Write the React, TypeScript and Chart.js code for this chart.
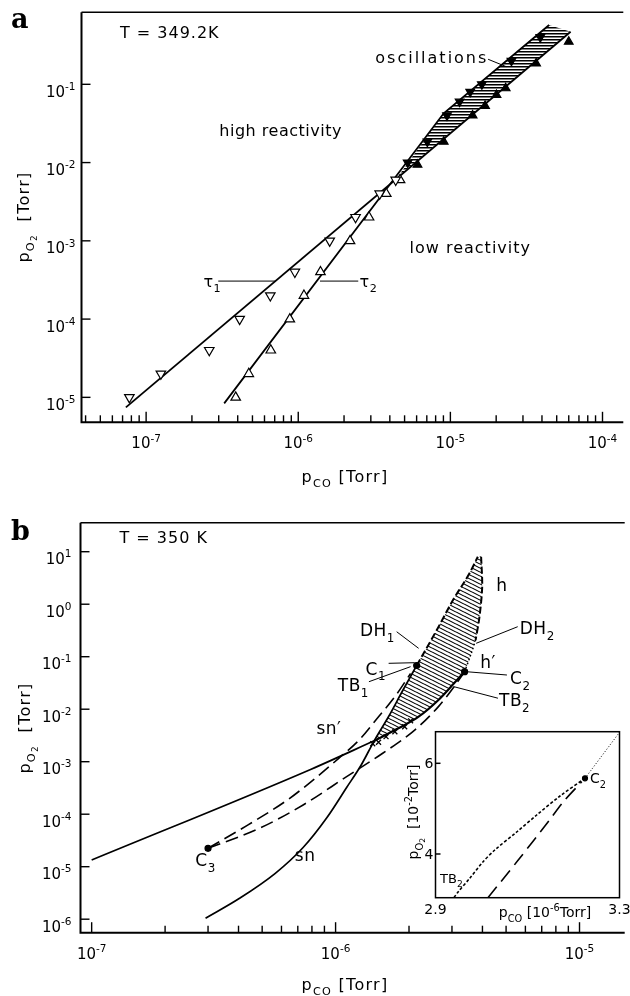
import { useEffect, useRef } from 'react';
import { Chart, registerables } from 'chart.js';

Chart.register(...registerables);

const FONT = '"DejaVu Sans", "Liberation Sans", Arial, sans-serif';

// ================= Panel a : T = 349.2 K =================
const A_X_RANGE = [3.76e-8, 1.37e-4];
const A_Y_RANGE = [4.8e-6, 0.832];
const A_X_TICK_EXPONENTS = [-7, -6, -5, -4];
const A_Y_TICK_EXPONENTS = [-1, -2, -3, -4, -5];

// tau1 (open down-triangles)
const A_TAU1_X = [7.76e-8, 1.25e-7, 2.6e-7, 4.12e-7, 6.55e-7, 9.5e-7, 1.61e-6, 2.38e-6, 3.43e-6, 4.37e-6];
const A_TAU1_Y = [1e-5, 2e-5, 4e-5, 1e-4, 2e-4, 4e-4, 1e-3, 2e-3, 4e-3, 6e-3];
// tau2 (open up-triangles)
const A_TAU2_X = [3.88e-7, 4.73e-7, 6.6e-7, 8.8e-7, 1.09e-6, 1.4e-6, 2.19e-6, 2.92e-6, 3.79e-6, 4.67e-6];
const A_TAU2_Y = [1e-5, 2e-5, 4e-5, 1e-4, 2e-4, 4e-4, 1e-3, 2e-3, 4e-3, 6e-3];
// oscillation boundaries (filled triangles)
const A_OSC_UP_X = [5.24e-6, 7.06e-6, 9.5e-6, 1.15e-5, 1.35e-5, 1.61e-5, 2.52e-5, 3.9e-5];
const A_OSC_UP_Y = [0.01, 0.0185, 0.04, 0.06, 0.08, 0.1, 0.2, 0.4];
const A_OSC_LO_X = [6.08e-6, 9.04e-6, 1.4e-5, 1.69e-5, 2.01e-5, 2.31e-5, 3.66e-5, 6.0e-5];
const A_OSC_LO_Y = [0.0094, 0.0185, 0.04, 0.053, 0.073, 0.089, 0.185, 0.35];
// fitted lines
const A_LINE1_X = [7.36e-8, 6.17e-5];
const A_LINE1_Y = [7.45e-6, 0.47];
const A_LINE2_X = [3.26e-7, 9.04e-6, 4.46e-5];
const A_LINE2_Y = [8.37e-6, 0.0426, 0.573];
// hatched oscillation band
const A_BAND_X = [4.52e-6, 9.04e-6, 4.46e-5, 6.17e-5, 4.52e-6];
const A_BAND_Y = [6.6e-3, 0.0426, 0.573, 0.47, 6.6e-3];

// ================= Panel b : T = 350 K =================
const B_X_RANGE = [9.0e-8, 1.532e-5];
const B_Y_RANGE = [5.53e-7, 35.7];
const B_X_TICK_EXPONENTS = [-7, -6, -5];
const B_Y_TICK_EXPONENTS = [1, 0, -1, -2, -3, -4, -5, -6];

const B_LINE_X = [1.0e-7, 7.94e-7, 1.44e-6];
const B_LINE_Y = [1.34e-5, 7.2e-4, 2.5e-3];
const B_SN_X = [2.93e-7, 4.04e-7, 5.66e-7, 7.36e-7, 9.22e-7, 1.11e-6, 1.27e-6, 1.44e-6, 1.65e-6, 1.88e-6, 2.15e-6];
const B_SN_Y = [1.04e-6, 2.5e-6, 7.48e-6, 2.32e-5, 8.65e-5, 3.23e-4, 8.47e-4, 2.5e-3, 7.26e-3, 0.0222, 0.068];
const B_SNP_X = [3.0e-7, 4.36e-7, 6.34e-7, 8.24e-7, 1.03e-6, 1.25e-6, 1.5e-6, 1.75e-6, 2.03e-6];
const B_SNP_Y = [2.24e-5, 6.2e-5, 1.86e-4, 4.8e-4, 1.16e-3, 2.6e-3, 7.2e-3, 0.0173, 0.048];
const B_LOWDASH_X = [3.0e-7, 4.88e-7, 7.36e-7, 1.11e-6, 1.56e-6, 2.11e-6, 2.64e-6, 3.06e-6, 3.38e-6];
const B_LOWDASH_Y = [2.24e-5, 5.4e-5, 1.5e-4, 5.2e-4, 1.45e-3, 4.0e-3, 0.0112, 0.0268, 0.0518];
const B_HLEFT_X = [2.15e-6, 2.6e-6, 3.03e-6, 3.54e-6, 3.83e-6];
const B_HLEFT_Y = [0.068, 0.323, 1.2, 3.88, 8.03];
const B_HRIGHT_X = [3.95e-6, 3.99e-6, 3.89e-6, 3.75e-6];
const B_HRIGHT_Y = [8.03, 2.15, 0.578, 0.208];
const B_HPRIME_X = [3.75e-6, 3.6e-6, 3.38e-6];
const B_HPRIME_Y = [0.208, 0.116, 0.0518];
const B_BOTTOM_X = [1.44e-6, 1.81e-6, 2.19e-6, 2.64e-6, 3.06e-6, 3.38e-6];
const B_BOTTOM_Y = [2.5e-3, 4.33e-3, 7.2e-3, 0.015, 0.0311, 0.0518];
const B_OSC_X = [1.44e-6, 1.65e-6, 1.88e-6, 2.15e-6, 2.6e-6, 3.03e-6, 3.54e-6, 3.83e-6, 3.95e-6, 3.99e-6, 3.89e-6, 3.75e-6, 3.6e-6, 3.38e-6, 3.06e-6, 2.64e-6, 2.19e-6, 1.81e-6, 1.44e-6];
const B_OSC_Y = [2.5e-3, 7.26e-3, 0.0222, 0.068, 0.323, 1.2, 3.88, 8.03, 8.03, 2.15, 0.578, 0.208, 0.116, 0.0518, 0.0311, 0.015, 7.2e-3, 4.33e-3, 2.5e-3];
const B_CROSS_X = [1.42e-6, 1.5e-6, 1.61e-6, 1.75e-6, 1.92e-6, 2.03e-6];
const B_CROSS_Y = [2.2e-3, 2.35e-3, 3.0e-3, 3.72e-3, 4.64e-3, 6.0e-3];
const B_POINT_X = [2.15e-6, 3.38e-6, 3.0e-7];
const B_POINT_Y = [0.068, 0.0518, 2.24e-5];

// ================= Inset =================
const I_X_RANGE = [2.9, 3.3];
const I_Y_RANGE = [3.036, 6.697];
const I_X_TICK_LABELS = [2.9, 3.3];
const I_Y_TICKS = [4, 6];
const I_UP_X = [3.225, 3.301];
const I_UP_Y = [5.669, 6.697];
const I_TB_X = [3.225, 3.1707, 3.12, 3.0765, 3.029, 3.003, 2.975, 2.949, 2.94];
const I_TB_Y = [5.669, 5.279, 4.86, 4.485, 4.088, 3.824, 3.471, 3.162, 3.036];
const I_DASH_X = [3.014, 3.079, 3.145, 3.178, 3.218];
const I_DASH_Y = [3.036, 3.855, 4.712, 5.153, 5.594];
const I_POINT_X = [3.225];
const I_POINT_Y = [5.669];

type Seg = [string, string];
type Lbl = { x: number; y: number; parts: Seg[]; align: string; size?: number; sp?: number };
type Leader = { x1: number; y1: number; x2: number; y2: number };

const A_LABELS: Lbl[] = [
  { x: 6.73e-8, y: 0.47, parts: [['T = 349.2K', '']], align: 'left', sp: 1 },
  { x: 3.21e-6, y: 0.225, parts: [['oscillations', '']], align: 'left', sp: 2 },
  { x: 3.03e-7, y: 0.0261, parts: [['high reactivity', '']], align: 'left', sp: 0.5 },
  { x: 5.39e-6, y: 8.41e-4, parts: [['low reactivity', '']], align: 'left', sp: 1 },
  { x: 2.38e-7, y: 3.06e-4, parts: [['τ', ''], ['1', 'sub']], align: 'left' },
  { x: 2.53e-6, y: 3.06e-4, parts: [['τ', ''], ['2', 'sub']], align: 'left' },
];
const A_LEADERS: Leader[] = [
  { x1: 1.77e-5, y1: 0.209, x2: 2.33e-5, y2: 0.168 },
  { x1: 2.98e-7, y1: 3.06e-4, x2: 7.1e-7, y2: 3.06e-4 },
  { x1: 1.39e-6, y1: 3.06e-4, x2: 2.48e-6, y2: 3.06e-4 },
];
const B_LABELS: Lbl[] = [
  { x: 1.3e-7, y: 18.6, parts: [['T = 350 K', '']], align: 'left', size: 16, sp: 1 },
  { x: 4.81e-6, y: 2.32, parts: [['h', '']], align: 'center' },
  { x: 1.75e-6, y: 0.323, parts: [['DH', ''], ['1', 'sub']], align: 'right' },
  { x: 5.69e-6, y: 0.348, parts: [['DH', ''], ['2', 'sub']], align: 'left' },
  { x: 4.22e-6, y: 0.0803, parts: [['h′', '']], align: 'center' },
  { x: 1.61e-6, y: 0.06, parts: [['C', ''], ['1', 'sub']], align: 'right' },
  { x: 1.37e-6, y: 0.0289, parts: [['TB', ''], ['1', 'sub']], align: 'right' },
  { x: 5.19e-6, y: 0.0388, parts: [['C', ''], ['2', 'sub']], align: 'left' },
  { x: 4.68e-6, y: 0.015, parts: [['TB', ''], ['2', 'sub']], align: 'left' },
  { x: 9.39e-7, y: 4.33e-3, parts: [['sn′', '']], align: 'center' },
  { x: 7.5e-7, y: 1.67e-5, parts: [['sn', '']], align: 'center' },
  { x: 2.93e-7, y: 1.34e-5, parts: [['C', ''], ['3', 'sub']], align: 'center' },
];
const B_LEADERS: Leader[] = [
  { x1: 1.78e-6, y1: 0.299, x2: 2.19e-6, y2: 0.1445 },
  { x1: 5.58e-6, y1: 0.373, x2: 3.77e-6, y2: 0.18 },
  { x1: 1.65e-6, y1: 0.0748, x2: 2.11e-6, y2: 0.0769 },
  { x1: 1.37e-6, y1: 0.0334, x2: 2.03e-6, y2: 0.0646 },
  { x1: 3.44e-6, y1: 0.0518, x2: 5.04e-6, y2: 0.0448 },
  { x1: 3.06e-6, y1: 0.0268, x2: 4.63e-6, y2: 0.0162 },
];
const I_LABELS: Lbl[] = [
  { x: 3.236, y: 5.669, parts: [['C', ''], ['2', 'sub']], align: 'left', size: 14 },
  { x: 2.91, y: 3.464, parts: [['TB', ''], ['2', 'sub']], align: 'left', size: 13 },
];

const pts = (xs: number[], ys: number[]) => xs.map((x, i) => ({ x, y: ys[i] }));

function lineDs(xs: number[], ys: number[], o: any = {}) {
  return {
    data: pts(xs, ys), showLine: true, pointRadius: 0, pointHoverRadius: 0,
    borderColor: '#000', borderWidth: 1.6, fill: false, tension: 0, order: 2, ...o,
  };
}
function markDs(xs: number[], ys: number[], o: any = {}) {
  return {
    data: pts(xs, ys), showLine: false, pointStyle: 'triangle', pointRadius: 5,
    pointBorderColor: '#000', pointBackgroundColor: '#000', pointBorderWidth: 1.2, order: 0, ...o,
  };
}
function makePattern(kind: string): any {
  const c = document.createElement('canvas');
  const g = c.getContext('2d') as CanvasRenderingContext2D;
  if (kind === 'h') {
    c.width = 4; c.height = 3;
    g.fillStyle = '#000';
    g.fillRect(0, 0, 4, 1.5);
  } else {
    c.width = 8; c.height = 4;
    g.strokeStyle = '#000';
    g.lineWidth = 1.1;
    for (const off of [-4, 0, 4]) {
      g.beginPath(); g.moveTo(0, off); g.lineTo(8, off + 4); g.stroke();
    }
  }
  return g.createPattern(c, 'repeat');
}

function partSize(size: number, kind: string) {
  return kind === 'subsub' ? size * 0.55 : kind ? size * 0.7 : size;
}
function partDy(size: number, kind: string) {
  if (kind === 'sub') return size * 0.32;
  if (kind === 'subsub') return size * 0.5;
  if (kind === 'sup') return -size * 0.45;
  return 0;
}
function drawRich(ctx: any, x: number, y: number, parts: Seg[], align: string, size: number, sp = 0) {
  let w = 0;
  for (const [t, k] of parts) {
    ctx.font = `${partSize(size, k)}px ${FONT}`;
    ctx.letterSpacing = `${sp}px`;
    w += ctx.measureText(t).width;
  }
  let cx = align === 'left' ? x : align === 'right' ? x - w : x - w / 2;
  const base = y + size * 0.365;
  ctx.textAlign = 'left';
  ctx.textBaseline = 'alphabetic';
  ctx.fillStyle = '#000';
  for (const [t, k] of parts) {
    ctx.font = `${partSize(size, k)}px ${FONT}`;
    ctx.letterSpacing = `${sp}px`;
    ctx.fillText(t, cx, base + partDy(size, k));
    cx += ctx.measureText(t).width;
  }
  ctx.letterSpacing = '0px';
}
function expStr(e: number) { return e < 0 ? `-${-e}` : `${e}`; }

type PanelOpts = {
  id: string; letter: string; letterY: number;
  xExps: number[]; yExps: number[]; yGap: number;
  xTitleX: number; xTitleY: number; yTitleX: number; yTitleY: number;
  labels: Lbl[]; leaders: Leader[]; textSize: number;
};

function panelPlugin(o: PanelOpts) {
  return {
    id: o.id,
    afterDatasetsDraw(chart: any) {
      const ctx = chart.ctx;
      const ca = chart.chartArea;
      const xs = chart.scales.x;
      const ys = chart.scales.y;
      ctx.save();
      ctx.strokeStyle = '#000';
      ctx.lineCap = 'butt';
      // frame
      ctx.lineWidth = 1.5;
      ctx.beginPath(); ctx.moveTo(ca.left, ca.top); ctx.lineTo(ca.right, ca.top); ctx.stroke();
      ctx.lineWidth = 2;
      ctx.beginPath(); ctx.moveTo(ca.left, ca.top); ctx.lineTo(ca.left, ca.bottom); ctx.lineTo(ca.right, ca.bottom); ctx.stroke();
      // x ticks (inward, with minor ticks)
      ctx.lineWidth = 1.4;
      const lo = Math.floor(Math.log10(xs.min));
      const hi = Math.ceil(Math.log10(xs.max));
      for (let e = lo; e <= hi; e++) {
        for (let m = 1; m <= 9; m++) {
          const v = m * Math.pow(10, e);
          if (v < xs.min || v > xs.max) continue;
          const px = xs.getPixelForValue(v);
          if (px < ca.left + 2 || px > ca.right - 1) continue;
          const len = m === 1 ? 10.5 : 7;
          ctx.beginPath(); ctx.moveTo(px, ca.bottom); ctx.lineTo(px, ca.bottom - len); ctx.stroke();
        }
      }
      // y ticks (major only)
      for (const e of o.yExps) {
        const py = ys.getPixelForValue(Math.pow(10, e));
        ctx.beginPath(); ctx.moveTo(ca.left, py); ctx.lineTo(ca.left + 9, py); ctx.stroke();
      }
      // tick labels
      for (const e of o.xExps) {
        const px = xs.getPixelForValue(Math.pow(10, e));
        drawRich(ctx, px, ca.bottom + 20.5, [['10', ''], [expStr(e), 'sup']], 'center', 15);
      }
      for (const e of o.yExps) {
        const py = ys.getPixelForValue(Math.pow(10, e));
        drawRich(ctx, ca.left - o.yGap, py + 7, [['10', ''], [expStr(e), 'sup']], 'right', 15);
      }
      // axis titles
      drawRich(ctx, o.xTitleX, o.xTitleY, [['p', ''], ['CO', 'sub'], [' [Torr]', '']], 'center', 16, 1.3);
      ctx.save();
      ctx.translate(o.yTitleX, o.yTitleY);
      ctx.rotate(-Math.PI / 2);
      drawRich(ctx, 0, 0, [['p', ''], ['O', 'sub'], ['2', 'subsub'], ['  [Torr]', '']], 'center', 16, 1.3);
      ctx.restore();
      // leaders
      ctx.lineWidth = 1;
      for (const l of o.leaders) {
        ctx.beginPath();
        ctx.moveTo(xs.getPixelForValue(l.x1), ys.getPixelForValue(l.y1));
        ctx.lineTo(xs.getPixelForValue(l.x2), ys.getPixelForValue(l.y2));
        ctx.stroke();
      }
      // labels
      for (const l of o.labels) {
        drawRich(ctx, xs.getPixelForValue(l.x), ys.getPixelForValue(l.y), l.parts, l.align, l.size ?? o.textSize, l.sp ?? 0.5);
      }
      // panel letter
      ctx.font = 'bold 27px "DejaVu Serif", "Liberation Serif", serif';
      ctx.textAlign = 'left';
      ctx.textBaseline = 'alphabetic';
      ctx.fillStyle = '#000';
      ctx.fillText(o.letter, 11, o.letterY);
      ctx.restore();
    },
  };
}

const inAxisPlugin = {
  id: 'insetAxes',
  afterDatasetsDraw(chart: any) {
    const ctx = chart.ctx;
    const ca = chart.chartArea;
    const xs = chart.scales.x;
    const ys = chart.scales.y;
    ctx.save();
    ctx.strokeStyle = '#000';
    ctx.lineWidth = 1.5;
    ctx.strokeRect(ca.left, ca.top, ca.right - ca.left, ca.bottom - ca.top);
    for (const v of I_Y_TICKS) {
      const py = ys.getPixelForValue(v);
      ctx.beginPath(); ctx.moveTo(ca.left, py); ctx.lineTo(ca.left + 5, py); ctx.stroke();
      drawRich(ctx, ca.left - 2, py, [[String(v), '']], 'right', 14);
    }
    for (const v of I_X_TICK_LABELS) {
      drawRich(ctx, xs.getPixelForValue(v), ca.bottom + 11, [[v.toFixed(1), '']], 'center', 14);
    }
    drawRich(ctx, 145, 192, [['p', ''], ['CO', 'sub'], [' [10', ''], ['-6', 'sup'], ['Torr]', '']], 'center', 14);
    ctx.save();
    ctx.translate(13, 92);
    ctx.rotate(-Math.PI / 2);
    drawRich(ctx, 0, 0, [['p', ''], ['O', 'sub'], ['2', 'subsub'], ['  [10', ''], ['-2', 'sup'], ['Torr]', '']], 'center', 14);
    ctx.restore();
    for (const l of I_LABELS) {
      drawRich(ctx, xs.getPixelForValue(l.x), ys.getPixelForValue(l.y), l.parts, l.align, l.size ?? 14, 0);
    }
    ctx.restore();
  },
};

function baseOptions(xr: number[], yr: number[], padding: any, xType = 'logarithmic', yType = 'logarithmic') {
  return {
    animation: false,
    responsive: false,
    maintainAspectRatio: false,
    devicePixelRatio: 1,
    events: [],
    layout: { padding },
    plugins: { legend: { display: false }, tooltip: { enabled: false } },
    scales: {
      x: { type: xType, min: xr[0], max: xr[1], display: false },
      y: { type: yType, min: yr[0], max: yr[1], display: false },
    },
  };
}

export default function App() {
  const aRef = useRef<HTMLCanvasElement>(null);
  const bRef = useRef<HTMLCanvasElement>(null);
  const iRef = useRef<HTMLCanvasElement>(null);

  useEffect(() => {
    const charts: Chart[] = [];
    const hatchH = makePattern('h');
    const hatchD = makePattern('d');
    const mono = { cubicInterpolationMode: 'monotone' };

    const aDatasets: any[] = [
      { data: pts(A_BAND_X, A_BAND_Y), showLine: true, fill: 'shape', backgroundColor: hatchH, borderColor: 'rgba(0,0,0,0)', borderWidth: 0, pointRadius: 0, order: 5 },
      lineDs(A_LINE1_X, A_LINE1_Y, { borderWidth: 1.8 }),
      lineDs(A_LINE2_X, A_LINE2_Y, { borderWidth: 1.8 }),
      markDs(A_TAU1_X, A_TAU1_Y, { pointRotation: 180, pointBackgroundColor: '#fff', pointRadius: 5.5 }),
      markDs(A_TAU2_X, A_TAU2_Y, { pointBackgroundColor: '#fff', pointRadius: 5.5 }),
      markDs(A_OSC_UP_X, A_OSC_UP_Y, { pointRotation: 180 }),
      markDs(A_OSC_LO_X, A_OSC_LO_Y, {}),
    ];
    charts.push(new Chart(aRef.current as HTMLCanvasElement, {
      type: 'scatter',
      data: { datasets: aDatasets },
      options: baseOptions(A_X_RANGE, A_Y_RANGE, { left: 81.5, top: 12.3, right: 0, bottom: 77.7 }) as any,
      plugins: [panelPlugin({
        id: 'panelA', letter: 'a', letterY: 27.5,
        xExps: A_X_TICK_EXPONENTS, yExps: A_Y_TICK_EXPONENTS, yGap: 6,
        xTitleX: 345, xTitleY: 476, yTitleX: 23, yTitleY: 217,
        labels: A_LABELS, leaders: A_LEADERS, textSize: 16,
      })] as any,
    }));

    const bDatasets: any[] = [
      { data: pts(B_OSC_X, B_OSC_Y), showLine: true, fill: 'shape', backgroundColor: hatchD, borderColor: 'rgba(0,0,0,0)', borderWidth: 0, pointRadius: 0, tension: 0.2, order: 5 },
      lineDs(B_LINE_X, B_LINE_Y, { borderWidth: 1.7, ...mono }),
      lineDs(B_SN_X, B_SN_Y, { borderWidth: 1.7, ...mono }),
      lineDs(B_SNP_X, B_SNP_Y, { borderWidth: 1.6, borderDash: [13, 6], ...mono }),
      lineDs(B_LOWDASH_X, B_LOWDASH_Y, { borderWidth: 1.6, borderDash: [13, 6], ...mono }),
      lineDs(B_HLEFT_X, B_HLEFT_Y, { borderWidth: 2, borderDash: [7, 3], ...mono }),
      lineDs(B_HRIGHT_X, B_HRIGHT_Y, { borderWidth: 2, tension: 0.3, borderDash: [7, 3] }),
      lineDs(B_HPRIME_X, B_HPRIME_Y, { borderWidth: 1.5, tension: 0.3, borderDash: [1.5, 2.5] }),
      lineDs(B_BOTTOM_X, B_BOTTOM_Y, { borderWidth: 2.2, ...mono }),
      markDs(B_CROSS_X, B_CROSS_Y, { pointStyle: 'crossRot', pointRadius: 3.5, pointBorderWidth: 1.3 }),
      markDs(B_POINT_X, B_POINT_Y, { pointStyle: 'circle', pointRadius: 3 }),
    ];
    charts.push(new Chart(bRef.current as HTMLCanvasElement, {
      type: 'scatter',
      data: { datasets: bDatasets },
      options: baseOptions(B_X_RANGE, B_Y_RANGE, { left: 80.5, top: 22.7, right: 0, bottom: 63.3 }) as any,
      plugins: [panelPlugin({
        id: 'panelB', letter: 'b', letterY: 40,
        xExps: B_X_TICK_EXPONENTS, yExps: B_Y_TICK_EXPONENTS, yGap: 9,
        xTitleX: 345, xTitleY: 484, yTitleX: 24, yTitleY: 228,
        labels: B_LABELS, leaders: B_LEADERS, textSize: 17,
      })] as any,
    }));

    const iDatasets: any[] = [
      lineDs(I_UP_X, I_UP_Y, { borderWidth: 1, borderDash: [1, 2] }),
      lineDs(I_TB_X, I_TB_Y, { borderWidth: 1.6, tension: 0.3, borderDash: [3, 2] }),
      lineDs(I_DASH_X, I_DASH_Y, { borderWidth: 1.6, tension: 0.3, borderDash: [14, 7] }),
      markDs(I_POINT_X, I_POINT_Y, { pointStyle: 'circle', pointRadius: 2.5 }),
    ];
    charts.push(new Chart(iRef.current as HTMLCanvasElement, {
      type: 'scatter',
      data: { datasets: iDatasets },
      options: baseOptions(I_X_RANGE, I_Y_RANGE, { left: 35.5, top: 11.7, right: 10.5, bottom: 32.3 }, 'linear', 'linear') as any,
      plugins: [inAxisPlugin] as any,
    }));

    return () => charts.forEach((c) => c.destroy());
  }, []);

  return (
    <div style={{ position: 'fixed', left: 0, top: 0, width: 630, height: 996, background: '#fff', overflow: 'hidden' }}>
      <canvas ref={aRef} width={630} height={500} style={{ position: 'absolute', left: 0, top: 0, width: 630, height: 500 }} />
      <canvas ref={bRef} width={630} height={496} style={{ position: 'absolute', left: 0, top: 500, width: 630, height: 496 }} />
      <canvas ref={iRef} width={230} height={210} style={{ position: 'absolute', left: 400, top: 720, width: 230, height: 210 }} />
    </div>
  );
}
